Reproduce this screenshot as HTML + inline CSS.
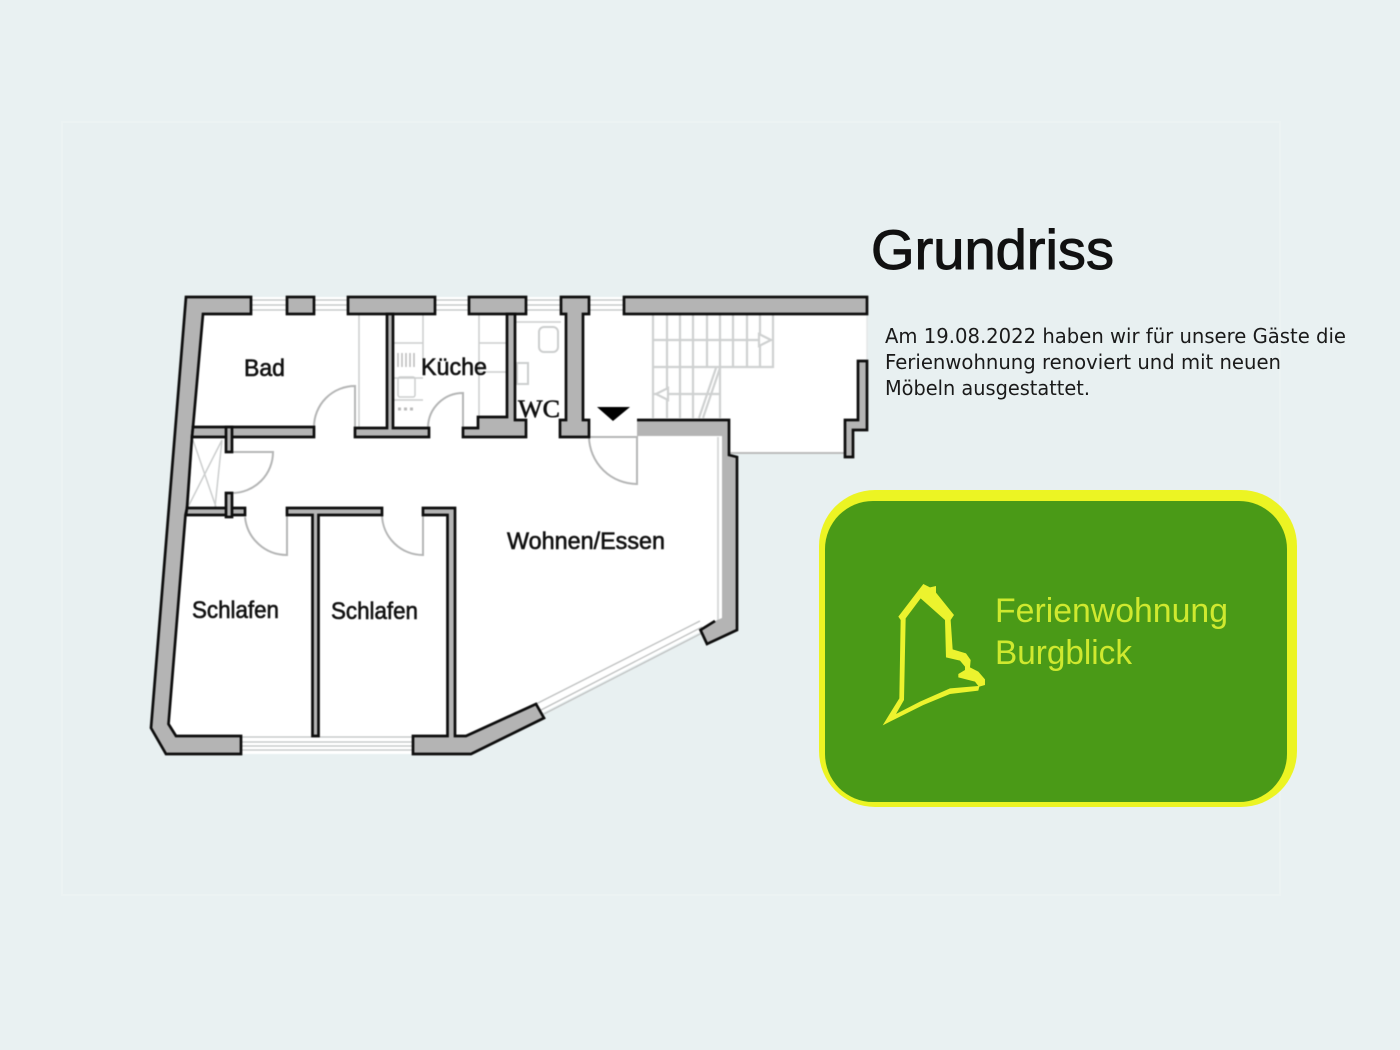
<!DOCTYPE html>
<html><head><meta charset="utf-8"><style>
html,body{margin:0;padding:0;background:#e9f1f2}
svg{display:block}
text{font-family:"Liberation Sans",sans-serif}
</style></head><body>
<svg width="1400" height="1050" viewBox="0 0 1400 1050" xmlns="http://www.w3.org/2000/svg">
<rect width="1400" height="1050" fill="#e9f1f2"/>
<rect x="62" y="122" width="1218" height="773" fill="#e8f0f1" stroke="#ecf3f3" stroke-width="2"/>
<g style="filter:blur(.5px)">
<polygon points="186,297 867,297 867,430 853,430 853,453 729,453 737,457 737,630 707,644 700,632 544,712 471,754 166,754 151,728" fill="#fff"/>
<!-- windows -->
<g stroke="#bfc1c1" stroke-width="1.3" fill="none">
<path d="M251,300H286M251,305H286M251,310H286M314,300H348M314,305H348M314,310H348M435,300H469M435,305H469M435,310H469M526,300H561M526,305H561M526,310H561M589,300H624M589,305H624M589,310H624"/>
<path d="M241,737H412M241,742H412M241,746H412M241,750H412"/>
<path d="M536,704L700,621M541,710L702,627M544,714L704,632"/>
<path d="M729,453H845" stroke="#b5b5b5" stroke-width="1.8"/>
<path d="M867,314V361" stroke="#e2e4e4"/>
<path d="M718,437V620" stroke="#d9dbdb" stroke-width="2"/>
</g>
<!-- light fixtures -->
<g stroke="#cccece" stroke-width="1.5" fill="none">
<path d="M359,314V427M423,314V360M394,343H423M394,400H423M394,378H423"/>
<path d="M479,314V417M479,343H507M479,372H507"/>
<path d="M398,353V367M402,353V367M406,353V367M410,353V367M414,353V367" stroke="#bbb"/>
<rect x="398" y="377" width="17" height="20" rx="2"/>
<path d="M398,409h18" stroke="#bbb" stroke-width="3" stroke-dasharray="3 3"/>
<path d="M515,322H561"/>
<rect x="539" y="327" width="19" height="25" rx="5" stroke-width="2"/>
<rect x="517" y="363" width="11" height="21" stroke-width="2"/>
<path d="M192,441L188,507M193,440L216,507M222,440L188,507M222,440L215,507"/>
<!-- stairs -->
<g stroke="#cfd1d1" stroke-width="2.2">
<path d="M653,315V418M667,315V418M680,315V418M693,315V418M707,315V368M720,315V418M733,315V368M747,315V368M760,315V368M773,315V368"/>
<path d="M653,340H771M653,367H773M653,394H720M699,418L716,368M703,418L720,368"/>
<path d="M771,340L759,334V346ZM656,394L668,388V400Z" fill="#fff"/>
</g>
</g>
<!-- doors -->
<g stroke="#b5b6b6" stroke-width="2" fill="none">
<path d="M314,427A41,41 0 0 1 355,386V427"/>
<path d="M428,427A35,35 0 0 1 463,393V428"/>
<path d="M232,452H273A41,41 0 0 1 232,493"/>
<path d="M245,517A42,42 0 0 0 287,555V515"/>
<path d="M382,515A41,41 0 0 0 423,555V515"/>
<path d="M589,437H637V484A48,48 0 0 1 589,437"/>
</g>
<!-- walls -->
<g fill="#b4b4b4" stroke="#0d0d0d" stroke-width="2.7" stroke-linejoin="miter">
<polygon points="186,297 251,297 251,314 203,314 193,427 192,437 187,508 185.5,515 168.5,724 176,736 241,736 241,754 166,754 151,728"/>
<rect x="287" y="297" width="27" height="17"/>
<rect x="348" y="297" width="87" height="17"/>
<rect x="469" y="297" width="57" height="17"/>
<rect x="624" y="297" width="243" height="17"/>
<polygon points="561,297 589,297 589,314 583,314 583,420 589,420 589,437 560,437 560,420 566,420 566,314 561,314"/>
<polygon points="193,427 314,427 314,437 192,437"/>
<polygon points="387,314 393,314 393,428 429,428 429,437 355,437 355,428 387,428"/>
<polygon points="507,314 515,314 515,420 526,420 526,437 500,437 463,437 463,428 478,428 478,417 507,417"/>
<polygon points="187,508 245,508 245,515 186,515"/>
<rect x="226" y="427" width="6" height="25"/>
<rect x="226" y="493" width="6" height="24"/>
<polygon points="287,508 382,508 382,515 318.5,515 318.5,736 312.5,736 312.5,515 294,515 287,515"/>
<polygon points="423,508 455,508 455,736 466,736 536,704 544,718 471,754 413,754 413,736 447.5,736 447.5,515 423,515"/>
<polygon points="845,420 858,420 858,361 867,361 867,430 853,430 853,457 845,457"/>
</g>
<polygon points="637,420 729,420 729,455 737,457 737,630 707,644 700.5,630 715,621 722,618 722,436 637,436" fill="#b4b4b4"/>
<path d="M637,420H729V455L737,457V630L707,644L700.5,630L715,621" fill="none" stroke="#0d0d0d" stroke-width="2.7"/>
<polygon points="597,407 630,407 613,421" fill="#000"/>
<!-- labels -->
<g fill="#111" stroke="#111" stroke-width=".6">
<text x="244" y="376" font-size="24" textLength="41" lengthAdjust="spacingAndGlyphs">Bad</text>
<text x="421" y="375" font-size="24" textLength="66" lengthAdjust="spacingAndGlyphs">Küche</text>
<text x="518" y="417" font-size="25" textLength="42" lengthAdjust="spacingAndGlyphs" style="font-family:'Liberation Serif',serif">WC</text>
<text x="507" y="549" font-size="24" textLength="158" lengthAdjust="spacingAndGlyphs">Wohnen/Essen</text>
<text x="192" y="618" font-size="24" textLength="87" lengthAdjust="spacingAndGlyphs">Schlafen</text>
<text x="331" y="619" font-size="24" textLength="87" lengthAdjust="spacingAndGlyphs">Schlafen</text>
</g>
</g>
<text x="871" y="269" font-size="56" fill="#111" stroke="#111" stroke-width="1" textLength="243" lengthAdjust="spacingAndGlyphs">Grundriss</text>
<g font-size="20" fill="#1a1a1a">
<text x="885" y="343" textLength="461" lengthAdjust="spacingAndGlyphs" style="font-family:'DejaVu Sans',sans-serif">Am 19.08.2022 haben wir für unsere Gäste die</text>
<text x="885" y="369" textLength="396" lengthAdjust="spacingAndGlyphs" style="font-family:'DejaVu Sans',sans-serif">Ferienwohnung renoviert und mit neuen</text>
<text x="885" y="395" textLength="205" lengthAdjust="spacingAndGlyphs" style="font-family:'DejaVu Sans',sans-serif">Möbeln ausgestattet.</text>
</g>
<!-- logo -->
<rect x="819" y="490" width="478" height="317" rx="56" fill="#ecf423"/>
<rect x="825" y="501" width="462" height="301" rx="48" fill="#4a9a17"/>
<path transform="translate(860,570) scale(.3333)" fill-rule="evenodd" fill="#ecf32e" d="M68,466L118,385L122,150L115,140L190,42L210,52L228,48L228,68L282,135L272,150L278,238L318,250L332,270L330,292L355,305L375,328L375,345L358,350L355,362L270,372L190,405ZM108,432L132,390L137,145L182,85L255,150L258,262L300,272L315,290L315,300L295,312L295,322L345,335L355,348L270,355L180,395Z"/>
<text x="995" y="622" font-size="34" fill="#cfe92f" textLength="233" lengthAdjust="spacingAndGlyphs">Ferienwohnung</text>
<text x="995" y="664" font-size="34" fill="#cfe92f" textLength="137" lengthAdjust="spacingAndGlyphs">Burgblick</text>
</svg>
</body></html>
